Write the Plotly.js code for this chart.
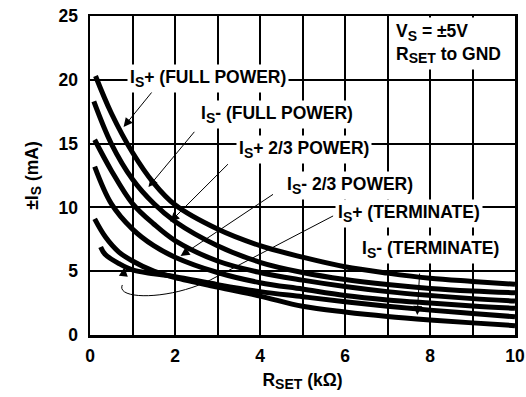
<!DOCTYPE html>
<html>
<head>
<meta charset="utf-8">
<script src="https://cdn.plot.ly/plotly-3.0.1.min.js"></script>
<style>html,body{margin:0;padding:0;background:#fff;}#chart{width:526px;height:397px;}</style>
</head>
<body>
<div id="chart"></div>
<script>
// R_SET (kΩ) and supply current (mA)
const rsetIsPlusFull  = [0.13, 0.5, 1, 1.5, 2, 3, 4, 5, 6, 7, 8, 9, 10];
const isPlusFull      = [20.3, 17.4, 14.3, 11.9, 10.2, 8.3, 7.0, 6.1, 5.35, 4.85, 4.45, 4.2, 3.97];
const rsetIsMinusFull = [0.09, 0.5, 1, 1.5, 2, 3, 4, 5, 6, 7, 8, 9, 10];
const isMinusFull     = [18.3, 15.0, 12.2, 10.3, 8.9, 7.0, 5.7, 4.9, 4.35, 3.95, 3.65, 3.45, 3.31];
const rsetIsPlus23    = [0.11, 0.5, 1, 1.5, 2, 3, 4, 5, 6, 7, 8, 9, 10];
const isPlus23        = [15.3, 12.9, 10.3, 8.7, 7.4, 5.8, 4.9, 4.3, 3.8, 3.4, 3.1, 2.85, 2.66];
const rsetIsMinus23   = [0.11, 0.5, 1, 1.5, 2, 3, 4, 5, 6, 7, 8, 9, 10];
const isMinus23       = [13.2, 10.3, 8.3, 7.0, 6.1, 4.9, 4.1, 3.6, 3.1, 2.75, 2.5, 2.27, 2.09];
const rsetIsPlusTerm  = [0.25, 0.36, 0.68, 1, 1.5, 2, 3, 4, 5, 6, 7, 8, 9, 10];
const isPlusTerm      = [6.9, 6.3, 5.6, 5.1, 4.8, 4.57, 3.95, 3.4, 3.0, 2.6, 2.25, 1.95, 1.68, 1.43];
const rsetIsMinusTerm = [0.11, 0.36, 0.68, 1, 1.5, 2, 3, 4, 5, 6, 7, 8, 9, 10];
const isMinusTerm     = [9.1, 7.7, 6.5, 5.8, 5.0, 4.5, 3.75, 3.05, 2.25, 1.8, 1.45, 1.18, 0.95, 0.73];

const xTickVals  = [0, 1, 2, 3, 4, 5, 6, 7, 8, 9, 10];
const xTickText  = ['0', '', '2', '', '4', '', '6', '', '8', '', '10'];
const yTickVals  = [0, 5, 10, 15, 20, 25];

const seriesX = [rsetIsPlusFull, rsetIsMinusFull, rsetIsPlus23, rsetIsMinus23, rsetIsPlusTerm, rsetIsMinusTerm];
const seriesY = [isPlusFull, isMinusFull, isPlus23, isMinus23, isPlusTerm, isMinusTerm];
const seriesNames = ['IS+ (FULL POWER)', 'IS- (FULL POWER)', 'IS+ 2/3 POWER', 'IS- 2/3 POWER', 'IS+ (TERMINATE)', 'IS- (TERMINATE)'];

const traces = seriesX.map((xs, i) => ({
  x: xs, y: seriesY[i], name: seriesNames[i], type: 'scatter', mode: 'lines',
  line: {color: '#000', width: 5, shape: 'spline', smoothing: 1.0},
  hoverinfo: 'skip', showlegend: false
}));

const FAM = 'Liberation Sans, Arial, sans-serif';
const F = {family: FAM, size: 17.5, color: '#000', weight: 'bold'};
const S = (t) => '<sub><span style="font-size:14px">' + t + '</span></sub>';

function arrow(x, y, ax, ay) {
  return {x: x, y: y, ax: ax, ay: ay, xref: 'x', yref: 'y', axref: 'x', ayref: 'y',
          text: ' ', showarrow: true, arrowhead: 2, arrowsize: 1.8, arrowwidth: 1, arrowcolor: '#000'};
}
function label(x, y, text) {
  return {x: x, y: y, xref: 'x', yref: 'y', text: text, showarrow: false,
          bgcolor: '#fff', borderpad: 2, font: F, xanchor: 'center', yanchor: 'middle'};
}

const layout = {
  width: 526, height: 397,
  margin: {l: 89.5, r: 11, t: 16, b: 62},
  paper_bgcolor: '#fff', plot_bgcolor: '#fff',
  font: F,
  showlegend: false,
  xaxis: {
    range: [0, 10], tickvals: xTickVals, ticktext: xTickText, ticks: '',
    showgrid: true, gridcolor: '#000', gridwidth: 2, zeroline: false,
    showline: true, linecolor: '#000', linewidth: 2.5, mirror: true,
    ticklabelstandoff: 3,
    tickfont: {family: FAM, size: 17.5, color: '#000', weight: 'bold'},
    title: {text: 'R' + S('SET') + ' (kΩ)', font: {family: FAM, size: 17.5, color: '#000', weight: 'bold'}, standoff: 9}
  },
  yaxis: {
    range: [0, 25], tickvals: yTickVals, ticks: '',
    showgrid: true, gridcolor: '#000', gridwidth: 2, zeroline: false,
    showline: true, linecolor: '#000', linewidth: 2.5, mirror: true,
    ticklabelstandoff: 6,
    tickfont: {family: FAM, size: 17.5, color: '#000', weight: 'bold'},
    title: {text: '±I' + S('S') + ' (mA)', font: {family: FAM, size: 17.5, color: '#000', weight: 'bold'}, standoff: 16}
  },
  shapes: [
    {type: 'path', xref: 'x', yref: 'y', layer: 'above',
     path: 'M 5.72,9.33 L 2.83,4.31 C 1.89,2.74 0.60,2.74 0.76,3.92',
     line: {color: '#000', width: 1}}
  ],
  annotations: [
    arrow(0.79, 16.3, 1.57, 19.5),
    arrow(1.375, 11.6, 2.55, 16.3),
    arrow(1.89, 8.88, 3.34, 13.7),
    arrow(2.13, 6.19, 4.4, 11.23),
    arrow(0.81, 5.3, 0.76, 3.92),
    arrow(7.7, 1.57, 7.77, 5.72),
    label(2.78, 20.14, 'I' + S('S') + '+ (FULL POWER)'),
    label(4.41, 17.3, 'I' + S('S') + '- (FULL POWER)'),
    label(5.04, 14.5, 'I' + S('S') + '+ 2/3 POWER)'),
    label(6.12, 11.7, 'I' + S('S') + '- 2/3 POWER)'),
    label(7.51, 9.56, 'I' + S('S') + '+ (TERMINATE)'),
    label(8.0, 6.74, 'I' + S('S') + '- (TERMINATE)'),
    {x: 7.1, y: 24.9, xref: 'x', yref: 'y', xanchor: 'left', yanchor: 'top', align: 'left',
     text: 'V' + S('S') + ' = ±5V<br>R' + S('SET') + ' to GND', showarrow: false,
     bgcolor: '#fff', borderpad: 3, font: F}
  ]
};

Plotly.newPlot('chart', traces, layout, {staticPlot: true, displayModeBar: false});
</script>
</body>
</html>
